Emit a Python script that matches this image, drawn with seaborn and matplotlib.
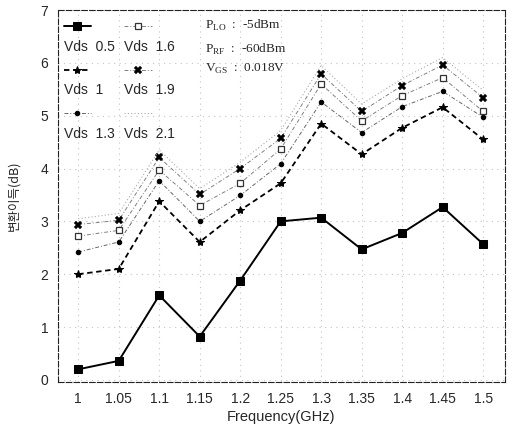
import matplotlib
matplotlib.use("Agg")
import matplotlib.pyplot as plt
import seaborn as sns
import numpy as np
import pandas as pd
from matplotlib.legend_handler import HandlerLine2D
from matplotlib.transforms import Affine2D

freq = [1.0, 1.05, 1.1, 1.15, 1.2, 1.25, 1.3, 1.35, 1.4, 1.45, 1.5]
freq_labels = ["1", "1.05", "1.1", "1.15", "1.2", "1.25", "1.3", "1.35", "1.4", "1.45", "1.5"]
y_ticks = [0, 1, 2, 3, 4, 5, 6, 7]
vds_05 = [0.2, 0.36, 1.6, 0.82, 1.88, 3.0, 3.07, 2.47, 2.78, 3.27, 2.57]
vds_10 = [2.0, 2.1, 3.38, 2.61, 3.21, 3.72, 4.85, 4.27, 4.77, 5.16, 4.55]
vds_13 = [2.42, 2.61, 3.77, 3.0, 3.49, 4.09, 5.26, 4.68, 5.17, 5.46, 4.97]
vds_16 = [2.72, 2.83, 3.97, 3.3, 3.72, 4.37, 5.6, 4.9, 5.38, 5.72, 5.08]
vds_19 = [2.94, 3.02, 4.21, 3.51, 4.0, 4.57, 5.79, 5.08, 5.57, 5.96, 5.34]
vds_21 = [3.05, 3.15, 4.35, 3.62, 4.12, 4.72, 5.95, 5.22, 5.7, 6.1, 5.48]
series_labels = ["Vds  0.5", "Vds  1", "Vds  1.3", "Vds  1.6", "Vds  1.9", "Vds  2.1"]
annotations = [r"P$_{\rm LO}$  :  -5dBm", r"P$_{\rm RF}$  :  -60dBm", r"V$_{\rm GS}$  :  0.018V"]

sns.set_theme(style="white")
plt.rcParams["font.family"] = ["Liberation Sans", "Noto Sans CJK KR", "DejaVu Sans"]
plt.rcParams["mathtext.fontset"] = "custom"
plt.rcParams["mathtext.rm"] = "Liberation Serif"

fig = plt.figure(figsize=(5.15, 4.29), dpi=100)
ax = fig.add_axes([58 / 515, 1 - 382 / 429, 447 / 515, 372 / 429])

styles = [
    dict(color="black", linestyle="-", linewidth=1.4, marker="s", markersize=5.5,
         markerfacecolor="black", markeredgecolor="black"),
    dict(color="black", linestyle=(0, (3, 2)), linewidth=1.3, marker="*", markersize=6,
         markerfacecolor="black", markeredgecolor="black"),
    dict(color="#666666", linestyle=(0, (4, 2, 1, 2)), linewidth=0.7, marker="o", markersize=3.2,
         markerfacecolor="black", markeredgecolor="black"),
    dict(color="#808080", linestyle=(0, (4, 2, 1, 2)), linewidth=0.7, marker="s", markersize=4.3,
         markerfacecolor="white", markeredgecolor="#333333", markeredgewidth=0.9),
    dict(color="#808080", linestyle=(0, (4, 2, 1, 2)), linewidth=0.7, marker="X", markersize=6.3,
         markerfacecolor="black", markeredgecolor="black", markeredgewidth=0.2),
    dict(color="#aaaaaa", linestyle=(0, (1, 2)), linewidth=0.8, marker=None),
]
all_series = [vds_05, vds_10, vds_13, vds_16, vds_19, vds_21]
for vals, lab, st in zip(all_series, series_labels, styles):
    sns.lineplot(x=freq, y=vals, ax=ax, label=lab, **st)

ax.set_xlim(0.975, 1.527)
ax.set_ylim(-0.04, 7.0)
ax.set_xticks(freq)
ax.set_xticklabels(freq_labels)
ax.set_yticks(y_ticks)
ax.set_yticklabels([str(v) for v in y_ticks])
ax.tick_params(axis="both", labelsize=10, length=3, direction="in", color="#333333", pad=7)
ax.grid(True, linestyle=(0, (1, 4)), color="#c4c4c4", linewidth=0.8)

for sp in ax.spines.values():
    sp.set_visible(True)
    sp.set_color("#222222")
    sp.set_linewidth(0.8)
    sp.set_linestyle((0, (5, 2)))

ax.set_xlabel("Frequency(GHz)", fontsize=10.5)
ax.xaxis.set_label_coords(0.5, -0.075)
ax.set_ylabel("변환이득(dB)", fontsize=9, family=["Noto Sans CJK KR", "DejaVu Sans"])
ax.yaxis.set_label_coords(-0.085, 0.5)


class RaisedHandler(HandlerLine2D):
    def __init__(self, dy, **kw):
        super().__init__(**kw)
        self.dy = dy

    def create_artists(self, legend, orig_handle, xdescent, ydescent, width, height, fontsize, trans):
        t = Affine2D().translate(0, self.dy * legend.figure.dpi / 72.0) + trans
        return super().create_artists(legend, orig_handle, xdescent, ydescent, width, height, fontsize, t)


handles, labels = ax.get_legend_handles_labels()
labels2 = ["\n" + l for l in labels]
leg = ax.legend(handles, labels2, ncol=2, loc="upper left", bbox_to_anchor=(0.0, 0.985),
                borderaxespad=0.0, frameon=False, fontsize=10, handlelength=2.0,
                handletextpad=-2.0, columnspacing=0.7, labelspacing=0.75,
                handler_map={h: RaisedHandler(6.2) for h in handles})
for t in leg.get_texts():
    t.set_linespacing(1.45)

ys = [25, 49, 69]
for txt, yp in zip(annotations, ys):
    ax.text((205 - 58) / 447, (382 - yp) / 372, txt, transform=ax.transAxes,
            fontsize=9.5, family="Liberation Serif", va="center", ha="left")

fig.savefig("out.png", dpi=100)
